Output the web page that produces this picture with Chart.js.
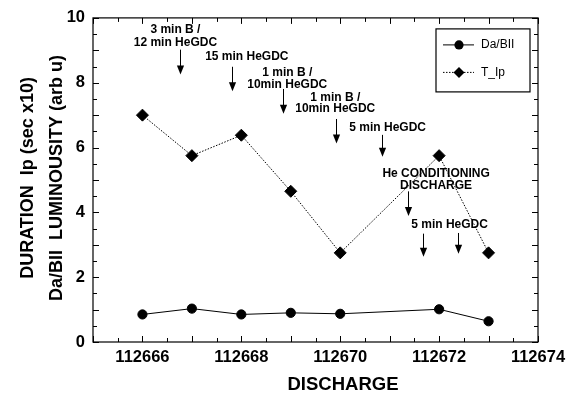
<!DOCTYPE html>
<html>
<head>
<meta charset="utf-8">
<script src="https://cdn.jsdelivr.net/npm/chart.js@4/dist/chart.umd.min.js"></script>
<style>
html,body{margin:0;padding:0;background:#fff;}
#wrap{width:581px;height:394px;}
</style>
</head>
<body>
<div id="wrap"><canvas id="c" width="581" height="394"></canvas></div>
<script>
// ---- data ----
const discharges = [112666, 112667, 112668, 112669, 112670, 112672, 112673];
const daBII = [0.85, 1.03, 0.85, 0.90, 0.87, 1.01, 0.64];
const tIp = [7.00, 5.75, 6.38, 4.65, 2.75, 5.75, 2.75];
const xTickLabels = [112666, 112668, 112670, 112672, 112674];
const yTickLabels = [0, 2, 4, 6, 8, 10];
const seriesNames = ['Da/BII', 'T_Ip'];
const xTitle = 'DISCHARGE';
const yTitleLines = ['DURATION  Ip (sec x10)', 'Da/BII  LUMINOUSITY (arb u)'];

// annotations: text lines, text centre (data units), arrows (data units)
const annLines = [
  ['3 min B /', '12 min HeGDC'],
  ['15 min HeGDC'],
  ['1 min B /', '10min HeGDC'],
  ['1 min B /', '10min HeGDC'],
  ['5 min HeGDC'],
  ['He CONDITIONING', 'DISCHARGE'],
  ['5 min HeGDC']
];
const annTextX = [112666.667, 112668.111, 112668.929, 112669.899, 112670.96, 112671.939, 112672.212];
const annTextY = [[9.642, 9.235], [8.807], [8.318, 7.951], [7.532, 7.187], [6.606], [5.19, 4.823], [3.609]];
const arrowX = [112666.754, 112667.812, 112668.842, 112669.909, 112670.855, 112671.364, 112671.667, 112672.39];
const arrowYFrom = [9.021, 8.492, 7.807, 6.881, 6.391, 4.648, 3.343, 3.364];
const arrowYTo = [8.257, 7.737, 7.043, 6.125, 5.719, 3.884, 2.63, 2.722];

const FONT = '"Liberation Sans", Arial, Helvetica, sans-serif';

const decor = {
  id: 'decor',
  afterDraw(chart) {
    const ctx = chart.ctx;
    const a = chart.chartArea;
    const xs = chart.scales.x, ys = chart.scales.y;
    ctx.save();
    ctx.strokeStyle = '#000';
    ctx.fillStyle = '#000';
    // frame
    ctx.lineWidth = 1.2;
    ctx.strokeRect(a.left, a.top, a.right - a.left, a.bottom - a.top);
    // ticks
    ctx.lineWidth = 1;
    ctx.beginPath();
    for (let v = xs.min; v <= xs.max + 1e-9; v += 0.5) {
      const px = Math.round(xs.getPixelForValue(v)) + 0.5;
      const major = Math.abs(v - Math.round(v)) < 1e-9;
      const L = major ? 6 : 4;
      ctx.moveTo(px, a.bottom); ctx.lineTo(px, a.bottom - L);
      ctx.moveTo(px, a.top); ctx.lineTo(px, a.top + L);
    }
    for (let v = ys.min; v <= ys.max + 1e-9; v += 0.5) {
      const py = Math.round(ys.getPixelForValue(v)) + 0.5;
      const major = Math.abs(v - Math.round(v)) < 1e-9;
      const L = major ? 6 : 4;
      ctx.moveTo(a.left, py); ctx.lineTo(a.left + L, py);
      ctx.moveTo(a.right, py); ctx.lineTo(a.right - L, py);
    }
    ctx.stroke();

    // axis titles
    ctx.font = 'bold 18.5px ' + FONT;
    ctx.textAlign = 'center';
    ctx.textBaseline = 'alphabetic';
    ctx.fillText(xTitle, 343, 390);
    ctx.font = 'bold 18px ' + FONT;
    const ycen = (a.top + a.bottom) / 2 - 2;
    const baseX = [33, 62];
    yTitleLines.forEach((t, i) => {
      ctx.save();
      ctx.translate(baseX[i], ycen);
      ctx.rotate(-Math.PI / 2);
      ctx.fillText(t, 0, 0);
      ctx.restore();
    });

    // annotations
    ctx.font = 'bold 12px ' + FONT;
    ctx.textBaseline = 'middle';
    annLines.forEach((lines, i) => {
      lines.forEach((t, j) => {
        ctx.fillText(t, xs.getPixelForValue(annTextX[i]), ys.getPixelForValue(annTextY[i][j]));
      });
    });
    arrowX.forEach((x, i) => {
      const px = Math.round(xs.getPixelForValue(x)) + 0.5;
      const y1 = ys.getPixelForValue(arrowYFrom[i]);
      const y2 = ys.getPixelForValue(arrowYTo[i]);
      ctx.beginPath();
      ctx.moveTo(px, y1); ctx.lineTo(px, y2 - 6);
      ctx.stroke();
      ctx.beginPath();
      ctx.moveTo(px - 3.6, y2 - 9);
      ctx.lineTo(px + 3.6, y2 - 9);
      ctx.lineTo(px, y2);
      ctx.closePath();
      ctx.fill();
    });

    // legend
    const lx = a.right - 102, ly = a.top + 11, lw = 94, lh = 63;
    ctx.lineWidth = 1.2;
    ctx.strokeRect(lx, ly, lw, lh);
    ctx.lineWidth = 1;
    const rows = [ly + 16, ly + 43.5];
    // row 1
    ctx.beginPath(); ctx.moveTo(lx + 7, rows[0]); ctx.lineTo(lx + 38, rows[0]); ctx.stroke();
    ctx.beginPath(); ctx.arc(lx + 23, rows[0], 4.6, 0, Math.PI * 2); ctx.fill();
    // row 2
    ctx.save();
    ctx.setLineDash([1.5, 1.5]);
    ctx.beginPath(); ctx.moveTo(lx + 7, rows[1]); ctx.lineTo(lx + 38, rows[1]); ctx.stroke();
    ctx.restore();
    const dx = lx + 23, dy = rows[1], r = 5.5;
    ctx.beginPath(); ctx.moveTo(dx - r, dy); ctx.lineTo(dx, dy - r); ctx.lineTo(dx + r, dy); ctx.lineTo(dx, dy + r); ctx.closePath(); ctx.fill();
    ctx.font = '12px ' + FONT;
    ctx.textAlign = 'left';
    ctx.fillText(seriesNames[0], lx + 45, rows[0]);
    ctx.fillText(seriesNames[1], lx + 45, rows[1]);
    ctx.restore();
  }
};

new Chart(document.getElementById('c'), {
  type: 'line',
  data: {
    datasets: [
      {
        label: seriesNames[0],
        data: discharges.map((x, i) => ({ x: x, y: daBII[i] })),
        borderColor: '#000', backgroundColor: '#000', borderWidth: 1,
        pointStyle: 'circle', pointRadius: 4.6, pointHoverRadius: 4.6,
        tension: 0, fill: false
      },
      {
        label: seriesNames[1],
        data: discharges.map((x, i) => ({ x: x, y: tIp[i] })),
        borderColor: '#000', backgroundColor: '#000', borderWidth: 1,
        borderDash: [1.5, 1.5],
        pointStyle: 'rectRot', pointRadius: 6, pointHoverRadius: 6,
        tension: 0, fill: false
      }
    ]
  },
  options: {
    responsive: false,
    animation: false,
    devicePixelRatio: 1,
    layout: { padding: { left: 0, top: 15, right: 43, bottom: 0 } },
    plugins: { legend: { display: false }, tooltip: { enabled: false }, title: { display: false } },
    scales: {
      x: {
        type: 'linear', min: 112665, max: 112674,
        grid: { display: false, drawTicks: false },
        border: { display: false },
        ticks: {
          color: '#000', padding: 6, autoSkip: false, maxRotation: 0, minRotation: 0,
          font: { family: FONT, size: 16.5, weight: 'bold' },
          callback: v => String(v)
        },
        afterBuildTicks: s => { s.ticks = xTickLabels.map(v => ({ value: v })); },
        afterFit: s => { s.height = 52; }
      },
      y: {
        type: 'linear', min: 0, max: 10,
        grid: { display: false, drawTicks: false },
        border: { display: false },
        ticks: {
          color: '#000', padding: 8,
          font: { family: FONT, size: 16.5, weight: 'bold' },
          callback: v => String(v)
        },
        afterBuildTicks: s => { s.ticks = yTickLabels.map(v => ({ value: v })); },
        afterFit: s => { s.width = 93; }
      }
    }
  },
  plugins: [decor]
});
</script>
</body>
</html>
